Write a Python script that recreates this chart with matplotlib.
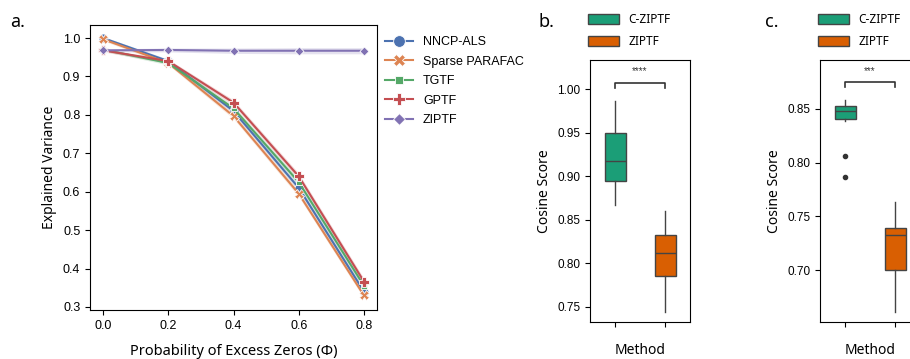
import numpy as np
import matplotlib
matplotlib.use("Agg")
from matplotlib import pyplot as plt
from matplotlib.patches import Patch

# ---- panel a data ----
phi = [0.0, 0.2, 0.4, 0.6, 0.8]
methods = ["NNCP-ALS", "Sparse PARAFAC", "TGTF", "GPTF", "ZIPTF"]
nncp_als = [1.000, 0.940, 0.810, 0.610, 0.340]
sparse_parafac = [0.997, 0.935, 0.797, 0.595, 0.330]
tgtf = [0.970, 0.935, 0.817, 0.625, 0.355]
gptf = [0.968, 0.940, 0.832, 0.640, 0.366]
ziptf = [0.968, 0.969, 0.967, 0.967, 0.967]
band = [0.004, 0.005, 0.007, 0.008, 0.008]   # half width of the shaded interval

# ---- panel b / c data (box stats) ----
box_methods = ["C-ZIPTF", "ZIPTF"]
# [whislo, q1, med, q3, whishi]
b_cziptf = [0.867, 0.895, 0.917, 0.950, 0.986]
b_ziptf = [0.744, 0.785, 0.812, 0.832, 0.860]
c_cziptf = [0.839, 0.8405, 0.848, 0.853, 0.858]
c_ziptf = [0.661, 0.700, 0.733, 0.739, 0.763]
c_cziptf_fliers = [0.806, 0.787]
b_sig = "****"
c_sig = "***"

lab_font = "Noto Sans"
tick_font = "Liberation Sans"
plt.rcParams['font.family'] = [tick_font, 'DejaVu Sans']

fig = plt.figure(figsize=(9.1, 3.59), dpi=100)

# ----------------- a -----------------
ax = fig.add_axes([90/910, 49/359, 287/910, 285/359])
colors = ["#4c72b0", "#dd8452", "#55a868", "#c44e52", "#8172b3"]
markers = ["o", "X", (4, 0, 45), "P", (4, 0, 0)]
series = [nncp_als, sparse_parafac, tgtf, gptf, ziptf]
for name, y, col, mk in zip(methods, series, colors, markers):
    y = np.array(y)
    ax.fill_between(phi, y - np.array(band), y + np.array(band), color=col, alpha=0.2, lw=0)
    ax.plot(phi, y, color=col, lw=1.5, marker=mk, ms=6.5, mec="white", mew=0.6, label=name)
ax.set_xlim(-0.04, 0.84)
ax.set_ylim(0.292, 1.034)
ax.set_xticks(phi)
ax.set_yticks([0.3, 0.4, 0.5, 0.6, 0.7, 0.8, 0.9, 1.0])
ax.tick_params(labelsize=9)
ax.set_ylabel("Explained Variance", fontsize=10, family=lab_font)
ax.set_xlabel("Probability of Excess Zeros (Φ)", fontsize=10.5, family=lab_font, labelpad=9)
ax.legend(loc="upper left", bbox_to_anchor=(0.99, 1.0), frameon=False, fontsize=9,
          handlelength=2.2, labelspacing=0.6, markerscale=1.3)
fig.text(10/910, 1 - 27/359, "a.", fontsize=13, family=lab_font)


def box_panel(left, lo, hi, s1, s2, fliers, sig, ticks, bracket_y, label, label_x):
    axb = fig.add_axes([left/910, 37/359, 100/910, 262/359])
    stats = []
    for s, fl in zip([s1, s2], [fliers, []]):
        stats.append(dict(whislo=s[0], q1=s[1], med=s[2], q3=s[3], whishi=s[4], fliers=fl))
    bp = axb.bxp(stats, positions=[0, 1], widths=0.42, showcaps=False, patch_artist=True,
                 boxprops=dict(edgecolor="#444444", lw=1),
                 medianprops=dict(color="#444444", lw=1),
                 whiskerprops=dict(color="#444444", lw=1),
                 flierprops=dict(marker="o", ms=3, mfc="#333333", mec="#333333"))
    for patch, col in zip(bp["boxes"], ["#1b9e77", "#d95f02"]):
        patch.set_facecolor(col)
    axb.set_xlim(-0.5, 1.5)
    axb.set_ylim(lo, hi)
    axb.set_yticks(ticks)
    axb.set_yticklabels(["%.2f" % t for t in ticks])
    axb.set_xticks([0, 1])
    axb.set_xticklabels([])
    axb.tick_params(labelsize=8.5)
    axb.set_xlabel("Method", fontsize=10, family=lab_font, labelpad=8)
    axb.set_ylabel("Cosine Score", fontsize=10, family=lab_font)
    d = (hi - lo) * 0.02
    axb.plot([0, 0, 1, 1], [bracket_y - d, bracket_y, bracket_y, bracket_y - d], color="#333333", lw=1.2)
    axb.text(0.5, bracket_y + d * 1.2, sig, ha="center", va="bottom", fontsize=7, color="#333333")
    handles = [Patch(facecolor="#1b9e77", edgecolor="#444444"), Patch(facecolor="#d95f02", edgecolor="#444444")]
    axb.legend(handles, box_methods, loc="lower left", bbox_to_anchor=(-0.02, 1.045), frameon=False,
               prop=dict(family=lab_font, size=8.5), handlelength=2.6, handleheight=0.9,
               labelspacing=0.75, borderaxespad=0, borderpad=0)
    fig.text(label_x/910, 1 - 27/359, label, fontsize=13, family=lab_font)
    return axb


box_panel(590, 0.7324, 1.0337, b_cziptf, b_ziptf, [], b_sig,
          [0.75, 0.80, 0.85, 0.90, 0.95, 1.00], 1.0076, "b.", 538)
box_panel(820, 0.6516, 0.8956, c_cziptf, c_ziptf, c_cziptf_fliers, c_sig,
          [0.70, 0.75, 0.80, 0.85], 0.8751, "c.", 765)

fig.savefig("out.png", dpi=100)
